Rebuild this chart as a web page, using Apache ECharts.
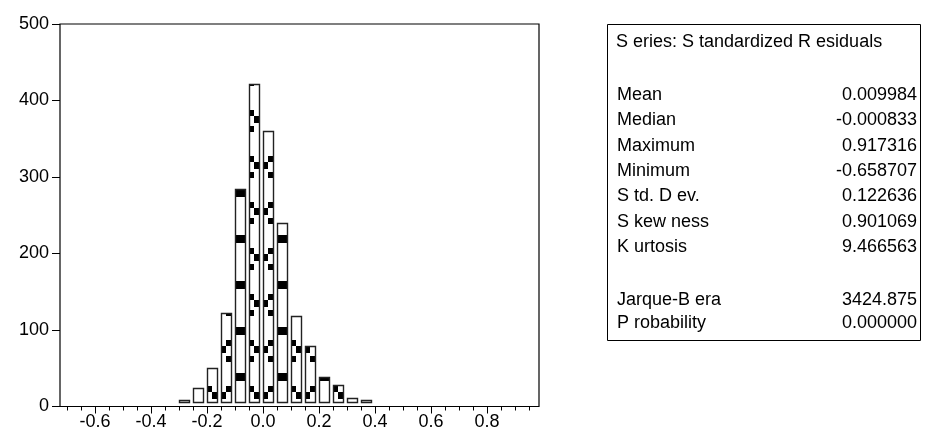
<!DOCTYPE html>
<html><head><meta charset="utf-8">
<script src="https://cdn.jsdelivr.net/npm/echarts@6/dist/echarts.min.js"></script>
<style>html,body{margin:0;padding:0;background:#fff}#c{width:927px;height:439px}</style>
</head><body><div id="c"></div>
<script>
// ---- data ----
const binStarts = [-0.30,-0.25,-0.20,-0.15,-0.10,-0.05,0.00,0.05,0.10,0.15,0.20,0.25,0.30,0.35];
const binWidth = 0.05;
const counts = [9,24,50,122,284,422,360,240,118,79,39,28,11,9];
const yTickValues = [0,100,200,300,400,500];
const xLabelValues = [-0.6,-0.4,-0.2,0.0,0.2,0.4,0.6,0.8];
const xMinorValues = [-0.70,-0.65,-0.60,-0.55,-0.50,-0.45,-0.40,-0.35,-0.30,-0.25,-0.20,-0.15,-0.10,-0.05,0.00,0.05,0.10,0.15,0.20,0.25,0.30,0.35,0.40,0.45,0.50,0.55,0.60,0.65,0.70,0.75,0.80,0.85,0.90,0.95];
const statTitle = 'S eries: S tandardized R esiduals';
const statNames = ['Mean','Median','Maximum','Minimum','S td. D ev.','S kew ness','K urtosis','Jarque-B era','P robability'];
const statValues = ['0.009984','-0.000833','0.917316','-0.658707','0.122636','0.901069','9.466563','3424.875','0.000000'];

// ---- pattern (EViews-like hatch, page aligned) ----
const pc = document.createElement('canvas');
pc.width = 42; pc.height = 46;
const g = pc.getContext('2d');
g.fillStyle = '#fff'; g.fillRect(0,0,42,46);
g.fillStyle = '#000';
function blk(x,y,w,h){ for (const dx of [-42,0,42]) g.fillRect(x+dx,y,w,h); }
blk(25,5,11,8);                                    // full-width blocks column
blk(39,18,5,6); blk(39,34,5,6); blk(44,24,5,7);    // zigzag L-R-L
blk(16,18,6,6); blk(16,34,6,6); blk(11,24,5,7);    // zigzag R-L-R
const patternFill = {image: pc, repeat: 'repeat'};

const FONT = "'Liberation Sans', Arial, sans-serif";
const chart = echarts.init(document.getElementById('c'), null, {renderer:'canvas'});

const X_MIN = -0.725, X_MAX = 0.9857;
const barFrac = 0.7;

const rowsY = [95,120.3,145.6,171,196.3,221.6,247,300,323.5];
const graphics = [
  {type:'rect', shape:{x:607.5,y:24.5,width:313,height:316}, style:{fill:'#fff',stroke:'#000',lineWidth:1}, z:1},
  {type:'text', x:616, y:42, style:{text:statTitle, font:'18px '+FONT, fill:'#000', textVerticalAlign:'middle'}, z:2}
];
statNames.forEach((n,i)=>{
  graphics.push({type:'text', x:617, y:rowsY[i], style:{text:n, font:'18px '+FONT, fill:'#000', textVerticalAlign:'middle'}, z:2});
  graphics.push({type:'text', x:917, y:rowsY[i], style:{text:statValues[i], font:'18px '+FONT, fill:'#000', textAlign:'right', textVerticalAlign:'middle'}, z:2});
});

chart.setOption({
  animation:false,
  backgroundColor:'#fff',
  grid:{left:60, top:24, width:479, height:382.5, show:true, borderColor:'#000', borderWidth:1.2, backgroundColor:'transparent'},
  xAxis:[
    {type:'value', min:X_MIN, max:X_MAX, position:'bottom',
     axisLine:{show:false, onZero:false}, splitLine:{show:false},
     axisTick:{show:true, customValues:xMinorValues, length:4, lineStyle:{color:'#000',width:1}},
     axisLabel:{show:false}},
    {type:'value', min:X_MIN, max:X_MAX, position:'bottom',
     axisLine:{show:false, onZero:false}, splitLine:{show:false},
     axisTick:{show:true, customValues:xLabelValues, length:7, lineStyle:{color:'#000',width:1}},
     axisLabel:{show:true, customValues:xLabelValues, margin:7, color:'#000', fontSize:18, fontFamily:FONT,
       formatter:v=>v.toFixed(1)}}
  ],
  yAxis:{type:'value', min:0, max:500, interval:100, position:'left',
    axisLine:{show:false, onZero:false}, splitLine:{show:false},
    axisTick:{show:true, length:8, lineStyle:{color:'#000',width:1}},
    axisLabel:{color:'#000', fontSize:18, fontFamily:FONT, margin:11, padding:[0,0,6,0]}},
  graphic: graphics,
  series:[{
    type:'custom', xAxisIndex:0, yAxisIndex:0, clip:false,
    data: binStarts.map((b,i)=>[b, counts[i]]),
    renderItem:(params, api)=>{
      const x0 = api.value(0), c = api.value(1);
      const p0 = api.coord([x0, 0]);
      const p1 = api.coord([x0 + binWidth*barFrac, c]);
      const left = Math.round(p0[0]) + 0.5;
      const right = Math.round(p1[0]) + 0.5;
      const base = Math.round(p0[1]) - 5 + 0.5;
      const top = Math.round(p1[1]) + 0.5;
      return {type:'rect', shape:{x:left, y:top, width:right-left, height:Math.max(base-top,1)},
        style:{fill:patternFill, stroke:'#222', lineWidth:1.4}};
    }
  }]
});
</script></body></html>
